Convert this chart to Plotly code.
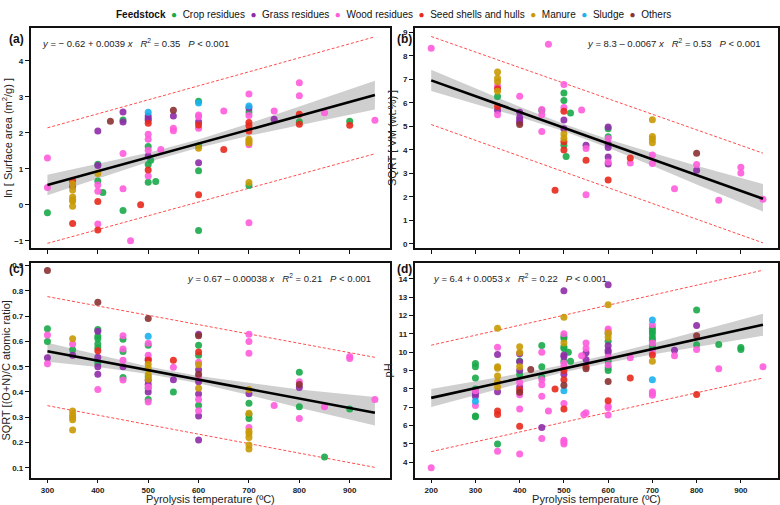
import plotly.graph_objects as go

# feedstock codes -> (legend name, colour)
feed_codes = ["C", "G", "W", "S", "M", "U", "O"]
feed_names = ["Crop residues", "Grass residues", "Wood residues", "Seed shells and hulls",
              "Manure", "Sludge", "Others"]
feed_colors = ["#1aaa4a", "#8e2ca8", "#ff5cdc", "#e8291c", "#c99a06", "#1ab2ee", "#8b3232"]

# ---- (a) ln surface area ----
a_temp = [
    300, 300, 300,
    350, 350, 350, 350, 350, 350, 350, 350, 350,
    400, 400, 400, 400, 400, 400, 400, 400, 400, 400,
    410, 425,
    450, 450, 450, 450, 450, 450,
    465, 485,
    500, 500, 500, 500, 500, 500, 500, 500, 500, 500, 500, 500, 500, 500,
    505, 515, 525,
    550, 550, 550, 550,
    600, 600, 600, 600, 600, 600, 600, 600, 600, 600, 600, 600, 600,
    650, 650,
    700, 700, 700, 700, 700, 700, 700, 700, 700, 700, 700, 700, 700, 700, 700,
    750, 750,
    800, 800, 800, 800, 800,
    850, 900, 900, 950,
]
a_value = [
    1.30, 0.48, -0.22,
    0.66, 0.52, 0.58, 0.41, 0.22, 0.14, 0.11, -0.04, -0.52,
    2.05, 1.13, 1.09, 0.87, 0.66, 0.55, 0.38, 0.09, -0.53, -0.70,
    0.34, 2.32,
    2.58, 2.36, 2.30, 1.43, 0.45, -0.16,
    -1.00, 0.00,
    2.57, 2.47, 2.40, 2.35, 2.27, 1.96, 1.82, 1.62, 1.52, 1.36, 1.12, 0.97, 0.80, 0.63,
    1.24, 0.65, 1.54,
    2.63, 2.47, 2.13, 2.06,
    2.88, 2.83, 2.50, 2.45, 2.31, 2.22, 2.13, 1.64, 1.57, 1.17, 0.95, 0.28, -0.71,
    2.61, 1.54,
    3.08, 2.75, 2.69, 2.58, 2.48, 2.29, 2.20, 2.05, 1.82, 1.77, 1.72, 1.67, 0.62, 0.54, -0.50,
    2.61, 2.38,
    3.39, 3.03, 2.52, 2.31, 2.24,
    2.56, 2.32, 2.21, 2.35,
]
a_feed = ("WWC" "SGMMMMMMS" "GCGMCWWSWS" "CO" "GCGWWC" "WS" "UGGGSWWCWGCSWC" "CCW"
          "OGWW" "CUWWGSWCMGCSC" "WS" "WUGCWSSSMMMWMCW" "WG" "WWSCS" "WCSW")

# ---- (b) SQRT VM ----
b_temp = [
    200,
    350, 350, 350, 350, 350, 350, 350, 350, 350, 350,
    400, 400, 400, 400, 400, 400,
    450, 450, 450, 450,
    465, 480,
    500, 500, 500, 500, 500, 500, 500, 500, 500, 500, 500, 500,
    505, 515, 540,
    550, 550, 550, 550,
    600, 600, 600, 600, 600, 600, 600, 600, 600, 600,
    650, 650,
    700, 700, 700, 700, 700, 700,
    750, 800, 800, 800, 850, 900, 900, 950,
]
b_value = [
    8.33,
    7.32, 7.05, 6.90, 6.72, 6.60, 6.50, 6.27, 5.85, 5.68, 5.50,
    6.28, 5.60, 5.38, 5.27, 5.18, 5.08,
    5.72, 5.68, 5.50, 4.78,
    8.50, 2.28,
    6.78, 6.42, 6.10, 5.80, 5.65, 5.27, 4.90, 4.68, 4.50, 4.35, 4.20, 4.00,
    3.72, 5.57, 5.70,
    4.20, 4.06, 3.56, 2.09,
    4.97, 4.90, 4.56, 4.48, 4.25, 4.10, 3.70, 3.48, 3.40, 2.72,
    3.65, 3.44,
    5.28, 4.57, 4.45, 4.30, 3.78, 3.42,
    2.35, 3.86, 3.38, 3.13, 1.86, 3.26, 3.02, 1.90,
]
b_feed = ("W" "MMMWSMCSGW" "WGGGGO" "WCWW" "WS" "WCCWSGGMMSCS" "CCW" "GWSW"
          "GCCWGGGWGS" "SW" "MMMMWW" "WOWGWWWW")

# ---- (c) SQRT (O+N)/C ----
c_temp = [
    300, 300, 300, 300, 300, 300,
    350, 350, 350, 350, 350, 350, 350, 350, 350,
    400, 400, 400, 400, 400, 400, 400, 400, 400, 400, 400, 400, 400,
    450, 450, 450, 450, 450, 450, 450, 450,
    500, 500, 500, 500, 500, 500, 500, 500, 500, 500, 500, 500, 500, 500, 500, 500, 500, 500, 500,
    550, 550, 550, 550,
    600, 600, 600, 600, 600, 600, 600, 600, 600, 600, 600, 600, 600, 600, 600, 600, 600, 600,
    700, 700, 700, 700, 700, 700, 700, 700, 700, 700, 700, 700, 700, 700, 700,
    750,
    800, 800, 800, 800, 800, 800,
    850, 850, 900, 900, 900, 950,
]
c_value = [
    0.88, 0.65, 0.625, 0.60, 0.535, 0.512,
    0.61, 0.59, 0.567, 0.545, 0.325, 0.31, 0.30, 0.29, 0.25,
    0.755, 0.647, 0.64, 0.62, 0.61, 0.59, 0.575, 0.563, 0.537, 0.515, 0.50, 0.47, 0.41,
    0.622, 0.608, 0.57, 0.56, 0.525, 0.50, 0.457, 0.447,
    0.69, 0.62, 0.593, 0.585, 0.545, 0.53, 0.525, 0.51, 0.495, 0.47, 0.46, 0.45, 0.445, 0.43,
    0.42, 0.415, 0.40, 0.37, 0.36,
    0.525, 0.498, 0.448, 0.40,
    0.628, 0.622, 0.585, 0.558, 0.545, 0.518, 0.508, 0.488, 0.47, 0.46, 0.44, 0.415, 0.392,
    0.37, 0.348, 0.326, 0.305, 0.21,
    0.628, 0.60, 0.553, 0.41, 0.393, 0.355, 0.316, 0.31, 0.295, 0.26, 0.245, 0.235, 0.22,
    0.19, 0.175,
    0.347,
    0.478, 0.44, 0.43, 0.418, 0.342, 0.295,
    0.342, 0.143, 0.54, 0.532, 0.333, 0.37,
]
c_feed = ("OCWCGW" "MWCGMMMMM" "OCGCCCCSGCGGW" "WCWCWGCW" "OUWCWGSMMMCMGGWCGCW" "SWGC"
          "GOCSCWMGOWGMGWCWGG" "WWWMGCMCCWMMMMM" "W" "CWOGCW" "WCWWCW")

# ---- (d) pH ----
d_temp = [
    200,
    300, 300, 300, 300, 300, 300, 300, 300, 300, 300, 300,
    350, 350, 350, 350, 350, 350, 350, 350, 350, 350, 350, 350, 350,
    400, 400, 400, 400, 400, 400, 400, 400, 400, 400, 400, 400, 400, 400, 400, 400,
    425,
    450, 450, 450, 450, 450, 450, 450, 450, 450,
    465, 480,
    500, 500, 500, 500, 500, 500, 500, 500, 500, 500, 500, 500, 500, 500, 500, 500, 500, 500,
    500, 500, 500, 500, 500,
    510, 515, 540, 545,
    550, 550, 550, 550, 550, 550, 550,
    600, 600, 600, 600, 600, 600, 600, 600, 600, 600, 600, 600, 600, 600, 600, 600, 600, 600,
    600, 600, 600,
    650, 650,
    700, 700, 700, 700, 700, 700, 700, 700, 700, 700, 700, 700, 700, 700, 700, 700, 700,
    750, 750,
    800, 800, 800, 800, 800, 800,
    850, 850, 900, 900, 950,
]
d_value = [
    3.70,
    9.38, 9.20, 8.60, 8.00, 7.90, 7.75, 7.60, 7.33, 7.10, 6.52, 6.48,
    11.30, 10.27, 9.88, 9.20, 9.12, 8.70, 8.38, 8.10, 7.85, 6.80, 6.60, 5.00, 4.60,
    10.30, 9.98, 9.92, 9.52, 9.48, 9.20, 9.00, 8.80, 8.35, 8.10, 7.95, 7.82, 7.68, 6.90, 5.97, 4.45,
    9.05,
    10.37, 10.00, 9.20, 8.65, 8.50, 8.22, 7.60, 5.90, 5.30,
    6.80, 8.00,
    13.35, 11.90, 11.00, 10.85, 10.75, 10.50, 10.30, 10.20, 9.85, 9.75, 9.50, 9.40, 9.20, 9.00,
    8.80, 8.50, 8.20, 7.90, 7.20, 6.90, 5.20, 5.10, 5.00,
    10.00, 9.50, 9.80, 6.60,
    10.50, 10.20, 9.97, 9.60, 9.20, 9.10, 6.70,
    13.68, 12.58, 11.27, 11.15, 11.05, 11.00, 10.80, 10.60, 10.35, 10.10, 10.00, 9.72, 9.50,
    9.30, 9.15, 9.00, 8.40, 7.35, 7.05, 6.97, 6.57,
    9.70, 8.60,
    11.75, 11.50, 11.30, 11.15, 11.00, 10.80, 10.65, 10.50, 10.35, 10.20, 10.00, 9.85, 9.50,
    8.50, 7.85, 7.75, 7.65,
    10.10, 9.80,
    12.30, 11.45, 10.90, 10.40, 10.15, 7.70,
    10.42, 9.10, 10.25, 10.15, 9.20,
]
d_feed = ("W" "CCCCWGGUWCC" "MWGMMMMMGSSCW" "MMGCGMGCWGSOWWSW" "O" "CWCCWWWGW" "WS"
          "GMWCCMCCGGCWWSGSOUWSWWW" "CCWW" "WWGGSOW" "GMWWMCMCGGGWCWCCOSWWW" "WS"
          "UWCCCCCWCCWSMUWWW" "GW" "CGOCWS" "CWCCW")

# fitted lines, 95% confidence bands and prediction bounds
a_fit_x, a_fit_y = [300, 950], [0.55, 3.05]
a_ci_x = [300, 400, 500, 600, 700, 800, 950]
a_ci_lo = [0.265, 0.735, 1.19, 1.585, 1.92, 2.21, 2.65]
a_ci_hi = [0.835, 1.135, 1.45, 1.815, 2.26, 2.73, 3.45]
a_pi_lo, a_pi_hi = [-1.07, 1.42], [2.14, 4.67]

b_fit_x, b_fit_y = [200, 950], [6.96, 1.92]
b_ci_x = [200, 300, 400, 500, 600, 700, 800, 950]
b_ci_lo = [6.51, 5.96, 5.40, 4.79, 4.09, 3.32, 2.53, 1.38]
b_ci_hi = [7.41, 6.62, 5.84, 5.10, 4.45, 3.88, 3.32, 2.55]
b_pi_lo, b_pi_hi = [5.08, 0.04], [8.83, 3.86]

c_fit_x, c_fit_y = [300, 950], [0.561, 0.318]
c_ci_x = [300, 400, 500, 600, 700, 800, 950]
c_ci_lo = [0.520, 0.499, 0.471, 0.435, 0.388, 0.338, 0.268]
c_ci_hi = [0.595, 0.549, 0.501, 0.463, 0.436, 0.410, 0.380]
c_pi_lo, c_pi_hi = [0.346, 0.102], [0.777, 0.537]

d_fit_x, d_fit_y = [200, 950], [7.51, 11.50]
d_ci_x = [200, 300, 400, 500, 600, 700, 800, 950]
d_ci_lo = [7.01, 7.66, 8.30, 8.90, 9.42, 9.87, 10.29, 10.90]
d_ci_hi = [8.00, 8.42, 8.84, 9.32, 9.86, 10.47, 11.11, 12.10]
d_pi_lo, d_pi_hi = [4.58, 8.59], [10.38, 14.47]

eq_a = "<i>y</i> = − 0.62 + 0.0039 <i>x</i>"
eq_b = "<i>y</i> = 8.3 – 0.0067 <i>x</i>"
eq_c = "<i>y</i> = 0.67 – 0.00038 <i>x</i>"
eq_d = "<i>y</i> = 6.4 + 0.0053 <i>x</i>"
r2 = ["0.35", "0.53", "0.21", "0.22"]

FONT = "Liberation Sans, Arial, sans-serif"
NARROW = "Liberation Sans Narrow, Arial Narrow, Liberation Sans, Arial, sans-serif"


def add_panel(fig, n, temp, value, feed, fit_x, fit_y, ci_x, ci_lo, ci_hi, pi_lo, pi_hi):
    xa, ya = ("x", "y") if n == 1 else (f"x{n}", f"y{n}")
    pi_x = [fit_x[0], fit_x[-1]]
    dash = dict(color="#ff4d4d", width=1, dash="3px,2px")
    fig.add_trace(go.Scatter(x=pi_x, y=pi_hi, mode="lines", line=dash, xaxis=xa, yaxis=ya))
    fig.add_trace(go.Scatter(x=pi_x, y=pi_lo, mode="lines", line=dash, xaxis=xa, yaxis=ya))
    fig.add_trace(go.Scatter(x=ci_x, y=ci_lo, mode="lines", line=dict(width=0),
                             xaxis=xa, yaxis=ya))
    fig.add_trace(go.Scatter(x=ci_x, y=ci_hi, mode="lines", line=dict(width=0), fill="tonexty",
                             fillcolor="rgba(175,175,175,0.6)", xaxis=xa, yaxis=ya))
    for code, color in zip(feed_codes, feed_colors):
        idx = [i for i, f in enumerate(feed) if f == code]
        if not idx:
            continue
        fig.add_trace(go.Scatter(
            x=[temp[i] for i in idx], y=[value[i] for i in idx], mode="markers",
            marker=dict(color=color, size=7, opacity=0.9, line=dict(width=0)),
            xaxis=xa, yaxis=ya))
    fig.add_trace(go.Scatter(x=fit_x, y=fit_y, mode="lines", line=dict(color="black", width=2.6),
                             xaxis=xa, yaxis=ya))


for data in [(a_temp, a_value, a_feed), (b_temp, b_value, b_feed),
             (c_temp, c_value, c_feed), (d_temp, d_value, d_feed)]:
    assert len(data[0]) == len(data[1]) == len(data[2]), [len(d) for d in data]

fig = go.Figure()
add_panel(fig, 1, a_temp, a_value, a_feed, a_fit_x, a_fit_y, a_ci_x, a_ci_lo, a_ci_hi, a_pi_lo, a_pi_hi)
add_panel(fig, 2, b_temp, b_value, b_feed, b_fit_x, b_fit_y, b_ci_x, b_ci_lo, b_ci_hi, b_pi_lo, b_pi_hi)
add_panel(fig, 3, c_temp, c_value, c_feed, c_fit_x, c_fit_y, c_ci_x, c_ci_lo, c_ci_hi, c_pi_lo, c_pi_hi)
add_panel(fig, 4, d_temp, d_value, d_feed, d_fit_x, d_fit_y, d_ci_x, d_ci_lo, d_ci_hi, d_pi_lo, d_pi_hi)

W, H = 780, 505
left_dom = [25 / W, 387 / W]
right_dom = [412 / W, 778 / W]
top_dom = [(H - 248) / H, (H - 26) / H]
bot_dom = [(H - 479.3) / H, (H - 263.3) / H]

axis_common = dict(showline=True, mirror=True, linecolor="#111", linewidth=1.8, ticks="outside",
                   ticklen=4, tickwidth=1, tickcolor="#111", showgrid=False, zeroline=False,
                   tickfont=dict(size=8, color="#222", family=FONT, weight="bold"))
title_font = dict(size=11, color="#222", family=FONT)

fig.update_layout(
    width=W, height=H, margin=dict(l=0, r=0, t=0, b=0),
    paper_bgcolor="white", plot_bgcolor="white", showlegend=False,
    font=dict(family=FONT, color="#222"),
    xaxis=dict(domain=left_dom, anchor="y", range=[267, 980], tickvals=[300, 400, 500, 600, 700, 800, 900],
               showticklabels=False, **axis_common),
    yaxis=dict(domain=top_dom, anchor="x", range=[-1.2, 4.92], dtick=1,
               title=dict(text="ln [ Surface area (m<sup>2</sup>/g) ]", font=title_font, standoff=4),
               **axis_common),
    xaxis2=dict(domain=right_dom, anchor="y2", range=[163, 984], tickvals=[200, 300, 400, 500, 600, 700, 800, 900],
                showticklabels=False, **axis_common),
    yaxis2=dict(domain=top_dom, anchor="x2", range=[-0.18, 9.2], dtick=1,
                title=dict(text="SQRT [ VM (wt.%) ]", font=title_font, standoff=4), **axis_common),
    xaxis3=dict(domain=left_dom, anchor="y3", range=[267, 980], tickvals=[300, 400, 500, 600, 700, 800, 900],
                title=dict(text="Pyrolysis temperature (ºC)", font=title_font, standoff=2), **axis_common),
    yaxis3=dict(domain=bot_dom, anchor="x3", range=[0.062, 0.909], dtick=0.1, tickformat=".1f",
                title=dict(text="SQRT [(O+N)/C atomic ratio]", font=title_font, standoff=4), **axis_common),
    xaxis4=dict(domain=right_dom, anchor="y4", range=[163, 984], tickvals=[200, 300, 400, 500, 600, 700, 800, 900],
                title=dict(text="Pyrolysis temperature (ºC)", font=title_font, standoff=2), **axis_common),
    yaxis4=dict(domain=bot_dom, anchor="x4", range=[3.17, 14.85], dtick=1,
                title=dict(text="pH", font=title_font, standoff=4), **axis_common),
)

# regression equations
sp = "&nbsp;" * 3
eqs = [(eq_a, r2[0], "x domain", "y domain", 0.026, "left"),
       (eq_b, r2[1], "x2 domain", "y2 domain", 0.96, "right"),
       (eq_c, r2[2], "x3 domain", "y3 domain", 0.952, "right"),
       (eq_d, r2[3], "x4 domain", "y4 domain", 0.045, "left")]
for eq, r, xr, yr, xpos, anchor in eqs:
    fig.add_annotation(text=f"{eq}{sp}<i>R</i><sup>2</sup> = {r}{sp}<i>P</i> &lt; 0.001",
                       xref=xr, yref=yr, x=xpos, y=0.93, xanchor=anchor, yanchor="middle",
                       showarrow=False, font=dict(size=9.5, color="#222", family=FONT))

# panel letters
for lab, x, y in [("(a)", 1, 37), ("(b)", 392, 37), ("(c)", 1, 269), ("(d)", 392, 269)]:
    fig.add_annotation(text=f"<b>{lab}</b>", xref="paper", yref="paper", x=x / W, y=1 - y / H,
                       xanchor="left", yanchor="middle", showarrow=False,
                       font=dict(size=12, color="#111", family=FONT))

# legend line
gap = "&nbsp;" * 2
items = [f"<span style='color:{c}'>●</span>&nbsp;&nbsp;{n}" for n, c in zip(feed_names, feed_colors)]
fig.add_annotation(text="<b>Feedstock</b>" + gap + gap.join(items), xref="paper", yref="paper",
                   x=390 / W, y=1 - 13 / H, xanchor="center", yanchor="middle", showarrow=False,
                   font=dict(size=10, color="#111", family=NARROW))

# the page body has a default margin; drop it so the figure sits at the window origin
fig.write_html("out.html", config={"displayModeBar": False},
               post_script="document.body.style.margin='0';"
                           "document.body.style.overflow='hidden';")
